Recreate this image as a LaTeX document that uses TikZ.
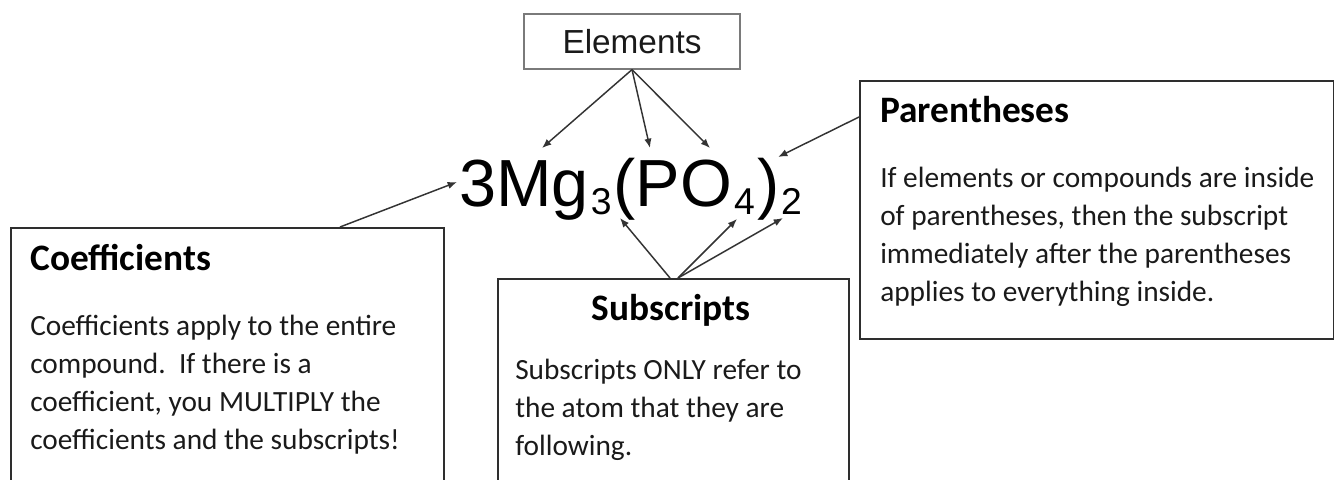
\documentclass[tikz,border=0pt]{standalone}
\usepackage{fontspec}
\setmainfont{Carlito}
\newfontfamily\arialf{Liberation Sans}
\usetikzlibrary{arrows.meta}
\definecolor{boxc}{HTML}{2E2E2E}
\definecolor{elc}{HTML}{7A7A7A}
\definecolor{arrc}{HTML}{333333}
\definecolor{txt}{HTML}{1A1A1A}
\newcommand{\lowsub}[1]{\kern1.5pt\lower6pt\hbox{\fontsize{28}{28}\selectfont #1}\kern1.5pt}
\begin{document}
\begin{tikzpicture}[x=0.75pt,y=-0.75pt,
  box/.style={draw=boxc, line width=1.3pt, inner sep=0pt, anchor=north west},
  conn/.style={draw=arrc, line width=1.1pt, -{Latex[length=7pt,width=5.5pt]}},
  ttl/.style={font=\fontsize{28}{34}\selectfont\bfseries, anchor=base west, inner sep=0pt, text=black},
  bodytext/.style={font=\fontsize{22}{28.5}\selectfont, anchor=base west, inner sep=0pt, align=left, text=txt},
]
\useasboundingbox (0,0) rectangle (1334,479);
\clip (0,0) rectangle (1334,479);

% boxes
\node[box, minimum width=324.75pt, minimum height=225pt] (coef) at (10,227) {};
\node[box, minimum width=263.25pt, minimum height=187.5pt] (sub) at (497,278) {};
\node[box, minimum width=355.5pt, minimum height=193.5pt] (par) at (859,80) {};
\node[draw=elc, line width=0.9pt, minimum width=162pt, minimum height=41.25pt, inner sep=0pt,
      font=\arialf\fontsize{25}{28}\selectfont, text=txt] (elem) at (632,41.5) {Elements};

% formula
\node[anchor=base west, inner sep=0pt, text=black, font=\arialf\fontsize{50}{50}\selectfont]
  (formula) at (459,206) {3Mg\lowsub{3}(PO\lowsub{4})\lowsub{2}};

% texts (body nodes are placed by the baseline of their last line)
\node[ttl] (coefT) at (30,270) {Coefficients};
\node[bodytext] (coefB) at (30,449) {Coefficients apply to the entire\\compound.\ \ If there is a\\coefficient, you MULTIPLY the\\coefficients and the subscripts!};
\node[ttl, anchor=base] (subT) at (671,320) {Subscripts};
\node[bodytext] (subB) at (515,455) {Subscripts ONLY refer to\\the atom that they are\\following.};
\node[ttl] (parT) at (880,122) {Parentheses};
\node[bodytext] (parB) at (880,301) {If elements or compounds are inside\\of parentheses, then the subscript\\immediately after the parentheses\\applies to everything inside.};

% connectors
\draw[conn] (elem.south) -- ([xshift=62.25pt,yshift=43.5pt]formula.base west);
\draw[conn] (elem.south) -- ([xshift=143.25pt,yshift=43.5pt]formula.base west);
\draw[conn] (elem.south) -- ([xshift=188.25pt,yshift=43.5pt]formula.base west);
\draw[conn] ([xshift=247.5pt]coef.north west) -- ([xshift=-1.5pt,yshift=18pt]formula.base west);
\draw[conn] ([yshift=-27.75pt]par.north west) -- ([xshift=239.25pt,yshift=36.75pt]formula.base west);
\draw[conn] ([xshift=129.75pt]sub.north west) -- ([xshift=120.75pt,yshift=-9pt]formula.base west);
\draw[conn] ([xshift=135.75pt]sub.north west) -- ([xshift=208.5pt,yshift=-9.75pt]formula.base west);
\draw[conn] ([xshift=135.75pt]sub.north west) -- ([xshift=243pt,yshift=-9pt]formula.base west);
\end{tikzpicture}
\end{document}
